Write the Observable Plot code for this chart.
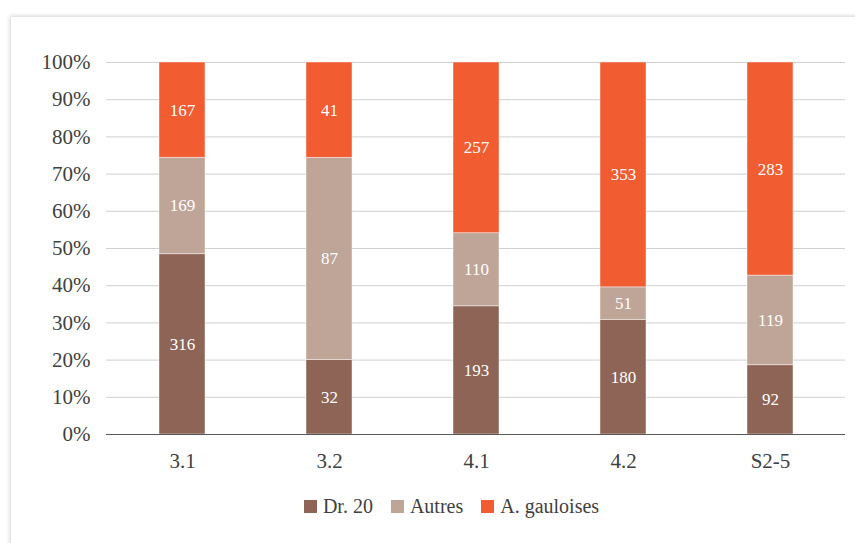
<!DOCTYPE html>
<html>
<head>
<meta charset="utf-8">
<script src="https://cdn.jsdelivr.net/npm/d3@7"></script>
<script src="https://cdn.jsdelivr.net/npm/@observablehq/plot@0.6"></script>
<style>
  html, body { margin: 0; padding: 0; background: #ffffff; overflow: hidden; }
  #card {
    position: absolute; left: 11px; top: 17px; width: 900px; height: 600px;
    background: #fff; box-shadow: 0 0 4px 1px rgba(0,0,0,0.18);
  }
  #chart { position: absolute; left: 0; top: 0; }
  #legend {
    position: absolute; left: 0; top: 495px; width: 855px;
    display: flex; justify-content: center; padding-left: 48px; box-sizing: border-box;
    font-family: "Liberation Serif", serif; font-size: 20px; color: #404040;
  }
  .item { display: flex; align-items: center; margin: 0 9px; }
  .sw { width: 13px; height: 13px; margin-right: 6px; }
</style>
</head>
<body>
<div id="card"></div>
<div id="chart"></div>
<div id="legend"></div>
<script>
const categories = ["3.1", "3.2", "4.1", "4.2", "S2-5"];
const seriesNames = ["Dr. 20", "Autres", "A. gauloises"];
const seriesColors = ["#8e6456", "#bfa498", "#f15c31"];
const dr20 = [316, 32, 193, 180, 92];
const autres = [169, 87, 110, 51, 119];
const gauloises = [167, 41, 257, 353, 283];
const yTicks = [0, 0.1, 0.2, 0.3, 0.4, 0.5, 0.6, 0.7, 0.8, 0.9, 1];

const seriesValues = [dr20, autres, gauloises];
const data = [];
seriesNames.forEach((s, si) => {
  categories.forEach((c, ci) => {
    data.push({category: c, series: s, value: seriesValues[si][ci]});
  });
});

const font = '"Liberation Serif", serif';

const chart = Plot.plot({
  width: 855,
  height: 476,
  marginLeft: 106,
  marginRight: 10,
  marginTop: 62,
  marginBottom: 42,
  style: {fontFamily: font, fontSize: "21px", color: "#404040", background: "transparent"},
  x: {domain: categories, paddingInner: 0.69, paddingOuter: 0.345, label: null, tickSize: 0, tickPadding: 19},
  y: {domain: [0, 1], ticks: yTicks, tickFormat: d3.format(".0%"), label: null, tickSize: 0, tickPadding: 16},
  color: {domain: seriesNames, range: seriesColors},
  marks: [
    Plot.ruleY(yTicks.filter(d => d > 0), {stroke: "#d0d0d0", strokeWidth: 1}),
    Plot.barY(data, Plot.stackY({
      x: "category", y: "value", z: "series", fill: "series",
      offset: "normalize", order: seriesNames,
      stroke: "#ffffff", strokeWidth: 0.8, strokeOpacity: 0.55
    })),
    Plot.text(data, Plot.stackY({
      x: "category", y: "value", z: "series", text: "value",
      offset: "normalize", order: seriesNames,
      fill: "#ffffff", fontSize: 17, fontFamily: font
    })),
    Plot.ruleY([0], {stroke: "#595959", strokeWidth: 1.2})
  ]
});
document.getElementById("chart").appendChild(chart);

const legend = document.getElementById("legend");
seriesNames.forEach((s, i) => {
  const item = document.createElement("div");
  item.className = "item";
  const sw = document.createElement("div");
  sw.className = "sw";
  sw.style.background = seriesColors[i];
  const t = document.createElement("span");
  t.textContent = s;
  item.appendChild(sw);
  item.appendChild(t);
  legend.appendChild(item);
});
</script>
</body>
</html>
